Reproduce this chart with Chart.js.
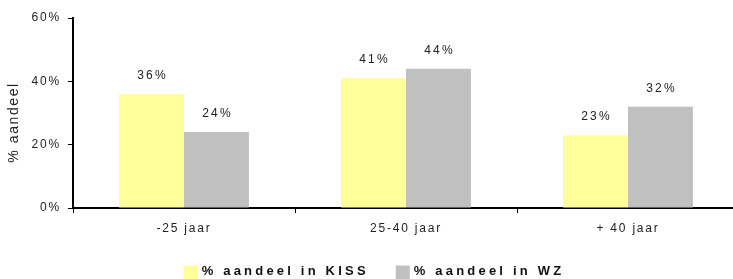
<!DOCTYPE html>
<html>
<head>
<meta charset="utf-8">
<script src="https://cdn.jsdelivr.net/npm/chart.js@4/dist/chart.umd.min.js"></script>
<style>
  html, body { margin: 0; padding: 0; background: #fff; overflow: hidden; }
  #wrap { width: 745px; height: 279px; }
</style>
</head>
<body>
<div id="wrap"><canvas id="chartKiss"></canvas></div>
<script>
const categories = ["-25 jaar", "25-40 jaar", "+ 40 jaar"];
const kissValues = [36, 41, 23];
const wzValues = [24, 44, 32];
const yTicks = [0, 20, 40, 60];
const yTitle = "% aandeel";

const fontFam = "'Liberation Sans', Arial, sans-serif";

// letter spacing like the original office chart
const spacing = {
  id: "spacing",
  beforeLayout(chart) {
    chart.ctx.letterSpacing = "1.8px";
  },
  beforeDraw(chart) {
    chart.ctx.letterSpacing = "1.8px";
  },
};

const barLabels = {
  id: "barLabels",
  afterDatasetsDraw(chart) {
    const ctx = chart.ctx;
    ctx.save();
    ctx.letterSpacing = "2.2px";
    ctx.font = "12px " + fontFam;
    ctx.fillStyle = "#222";
    ctx.textAlign = "center";
    ctx.textBaseline = "middle";
    chart.data.datasets.forEach((ds, i) => {
      chart.getDatasetMeta(i).data.forEach((bar, j) => {
        ctx.fillText(ds.data[j] + "%", bar.x + 1, bar.y - 18);
      });
    });
    ctx.restore();
  },
};

// y title + bottom legend, drawn by hand for the wide spacing
const extras = {
  id: "extras",
  afterDraw(chart) {
    const ctx = chart.ctx;
    const area = chart.chartArea;
    ctx.save();
    ctx.letterSpacing = "1.6px";
    ctx.font = "14px " + fontFam;
    ctx.fillStyle = "#222";
    ctx.textAlign = "center";
    ctx.textBaseline = "middle";
    ctx.translate(14, area.top + (area.bottom - area.top) * 0.55);
    ctx.rotate(-Math.PI / 2);
    ctx.fillText(yTitle, 0, 0);
    ctx.restore();

    ctx.save();
    ctx.letterSpacing = "3.2px";
    ctx.font = "bold 13px " + fontFam;
    ctx.textBaseline = "middle";
    const items = chart.data.datasets.map((ds) => ({
      text: ds.label,
      color: ds.backgroundColor,
      w: 14 + 4 + ctx.measureText(ds.label).width,
    }));
    const gap = 27;
    const total = items.reduce((a, it) => a + it.w, 0) + gap * (items.length - 1);
    let x = chart.width / 2 + 1.5 - total / 2;
    const y = chart.height - 7.5;
    items.forEach((it) => {
      ctx.fillStyle = it.color;
      ctx.fillRect(x, y - 6, 14, 14);
      ctx.fillStyle = "#111";
      ctx.fillText(it.text, x + 18, y);
      x += it.w + gap;
    });
    ctx.restore();
  },
};

const config = {
  type: "bar",
  data: {
    labels: categories,
    datasets: [
      {
        label: "% aandeel in KISS",
        data: kissValues,
        backgroundColor: "#FFFF99",
        borderWidth: 0,
      },
      {
        label: "% aandeel in WZ",
        data: wzValues,
        backgroundColor: "#C0C0C0",
        borderWidth: 0,
      },
    ],
  },
  options: {
    responsive: true,
    maintainAspectRatio: false,
    animation: false,
    layout: { padding: { top: 18, right: 6, left: 0, bottom: 24 } },
    datasets: { bar: { categoryPercentage: 0.585, barPercentage: 1 } },
    plugins: {
      legend: { display: false },
      tooltip: { enabled: false },
    },
    scales: {
      x: {
        afterFit: (s) => { s.height = 47; },
        grid: {
          offset: true,
          drawOnChartArea: false,
          drawTicks: true,
          tickLength: 5,
          color: "#000",
        },
        border: { display: true, color: "#000", width: 2 },
        ticks: {
          color: "#222",
          padding: 8,
          font: { size: 12, family: fontFam },
        },
      },
      y: {
        min: 0,
        max: 60,
        afterBuildTicks: (s) => { s.ticks = yTicks.map((v) => ({ value: v })); },
        afterFit: (s) => { s.width = 73; },
        grid: {
          drawOnChartArea: false,
          drawTicks: true,
          tickLength: 5,
          color: "#000",
        },
        border: { display: true, color: "#000", width: 2 },
        ticks: {
          color: "#222",
          padding: 7,
          callback: (v) => v + "%",
          font: { size: 12, family: fontFam },
        },
      },
    },
  },
  plugins: [spacing, barLabels, extras],
};

new Chart(document.getElementById("chartKiss"), config);
</script>
</body>
</html>
